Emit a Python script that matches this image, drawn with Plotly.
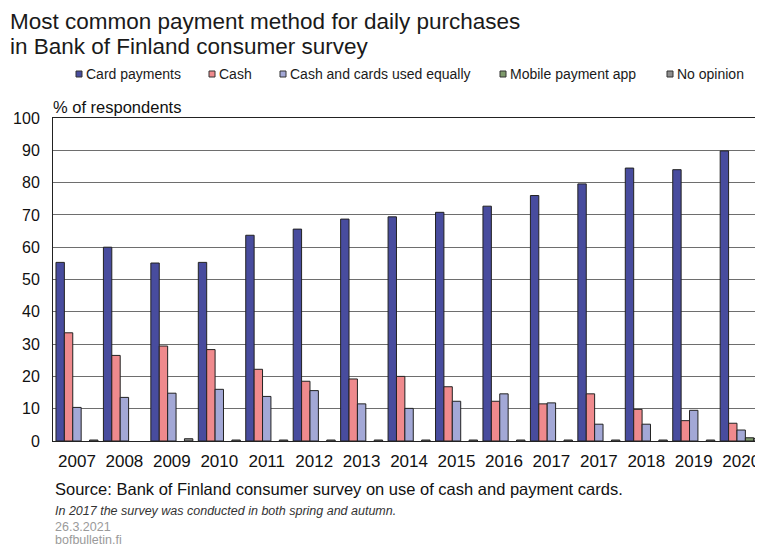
import plotly.graph_objects as go

years = ["2007", "2008", "2009", "2010", "2011", "2012", "2013", "2014",
         "2015", "2016", "2017", "2017", "2018", "2019", "2020"]
card_payments = [55.3, 60.0, 55.1, 55.3, 63.7, 65.6, 68.7, 69.4,
                 70.8, 72.7, 76.0, 79.6, 84.5, 84.0, 89.8]
cash = [33.5, 26.5, 29.4, 28.3, 22.2, 18.5, 19.2, 20.0,
        16.8, 12.3, 11.5, 14.6, 9.8, 6.3, 5.5]
cash_and_cards = [10.4, 13.5, 14.8, 16.0, 13.8, 15.6, 11.5, 10.1,
                  12.3, 14.6, 11.8, 5.2, 5.2, 9.5, 3.4]
mobile_app = [None, None, None, None, None, None, None, None,
              None, None, None, None, None, None, 1.0]
no_opinion = [0.3, None, 0.7, 0.3, 0.3, 0.3, 0.3, 0.3,
              0.3, 0.3, 0.3, 0.3, 0.3, 0.3, 0.8]

series_names = ["Card payments", "Cash", "Cash and cards used equally",
                "Mobile payment app", "No opinion"]
series_values = [card_payments, cash, cash_and_cards, mobile_app, no_opinion]
colors = ["#484C9E", "#EF8A8D", "#A3A8D6", "#7E9A6C", "#8E8E8E"]

positions = list(range(len(years)))

# Figure geometry (page body has an 8px margin, so figure is 8px smaller)
W, H = 755, 542
ML, MT, MB, MR = 45, 110, 109, 0
PW, PH = W - ML - MR, H - MT - MB


def px(xf):
    return (xf - ML) / PW


def py(yf):
    return (H - MB - yf) / PH


fig = go.Figure()
for name, vals, col in zip(series_names, series_values, colors):
    fig.add_trace(go.Bar(
        x=positions, y=vals, name=name, showlegend=False,
        marker=dict(color=col, line=dict(color="#222222", width=1)),
    ))

font_family = "Liberation Sans, Arial, sans-serif"

fig.update_layout(
    width=W, height=H,
    barmode="group", bargap=0.115, bargroupgap=0,
    plot_bgcolor="white", paper_bgcolor="white",
    margin=dict(l=ML, r=MR, t=MT, b=MB, pad=0),
    font=dict(family=font_family, color="#111111"),
    showlegend=False,
    xaxis=dict(
        range=[-0.505, 14.46],
        tickmode="array", tickvals=positions, ticktext=years,
        showgrid=False, ticks="",
        showline=True, linecolor="#222222", linewidth=1, mirror=True,
        tickfont=dict(size=17, color="#111111"),
        ticklabelstandoff=5,
        ticklabeloverflow="allow",
        fixedrange=True,
    ),
    yaxis=dict(
        range=[0, 100], dtick=10,
        showgrid=True, gridcolor="#6e6e6e", gridwidth=1,
        showline=True, linecolor="#222222", linewidth=1,
        zeroline=False, ticks="",
        tickfont=dict(size=16, color="#111111"),
        ticklabelstandoff=9,
        fixedrange=True,
    ),
)

# Title (two lines)
title_lines = ["Most common payment method for daily purchases",
               "in Bank of Finland consumer survey"]
title_y = [13, 38.5]
for line, ty in zip(title_lines, title_y):
    fig.add_annotation(text=line, xref="paper", yref="paper",
                       x=px(1), y=py(ty), borderpad=0,
                       xanchor="left", yanchor="middle", showarrow=False,
                       font=dict(size=22.5, color="#1a1a1a"))

# Legend (squares + labels)
legend_square_x = [68, 201, 272, 492, 659]
legend_y = 66
for name, col, sx in zip(series_names, colors, legend_square_x):
    fig.add_shape(type="rect", xref="paper", yref="paper",
                  xsizemode="pixel", ysizemode="pixel",
                  xanchor=px(sx), yanchor=py(legend_y),
                  x0=0, x1=6, y0=-3, y1=3,
                  fillcolor=col, line=dict(color="#333333", width=1))
    fig.add_annotation(text=name, xref="paper", yref="paper",
                       x=px(sx + 8), y=py(legend_y),
                       xanchor="left", yanchor="middle", showarrow=False,
                       font=dict(size=14, color="#1a1a1a"))

fig.add_annotation(text="% of respondents", xref="paper", yref="paper",
                   x=px(43), y=py(99), xanchor="left", yanchor="middle",
                   showarrow=False, font=dict(size=16.5, color="#111111"))

fig.add_annotation(text="Source: Bank of Finland consumer survey on use of cash and payment cards.",
                   xref="paper", yref="paper", x=px(45), y=py(481),
                   xanchor="left", yanchor="middle",
                   showarrow=False, font=dict(size=16.5, color="#111111"))
fig.add_annotation(text="<i>In 2017 the survey was conducted in both spring and autumn.</i>",
                   xref="paper", yref="paper", x=px(45), y=py(503),
                   xanchor="left", yanchor="middle",
                   showarrow=False, font=dict(size=12.5, color="#333333"))
fig.add_annotation(text="26.3.2021",
                   xref="paper", yref="paper", x=px(45), y=py(519),
                   xanchor="left", yanchor="middle",
                   showarrow=False, font=dict(size=12.5, color="#9a9a9a"))
fig.add_annotation(text="bofbulletin.fi",
                   xref="paper", yref="paper", x=px(45), y=py(532),
                   xanchor="left", yanchor="middle",
                   showarrow=False, font=dict(size=12.5, color="#9a9a9a"))

fig.write_html("out.html")
